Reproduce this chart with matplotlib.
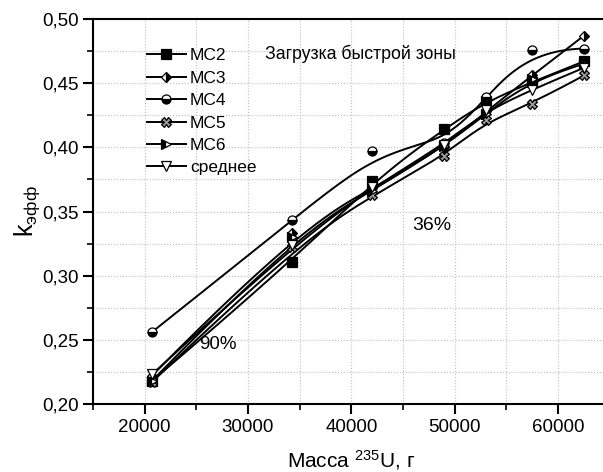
import numpy as np
import matplotlib
matplotlib.use("Agg")
import matplotlib.pyplot as plt
from matplotlib.ticker import MultipleLocator, FuncFormatter

plt.rcParams['font.family'] = ['Liberation Sans', 'DejaVu Sans']
plt.rcParams['mathtext.default'] = 'regular'

# -----------------------------
# data
# -----------------------------
mass = [20700, 34300, 42000, 49000, 53000, 57500, 62500]

mc2 = [0.218, 0.311, 0.374, 0.414, 0.436, 0.451, 0.467]
mc3 = [0.222, 0.333, 0.368, 0.400, 0.428, 0.456, 0.487]
mc4 = [0.256, 0.343, 0.397, 0.403, 0.439, 0.476, 0.477]
mc5 = [0.217, 0.322, 0.363, 0.393, 0.421, 0.434, 0.456]
mc6 = [0.218, 0.330, 0.366, 0.401, 0.426, 0.453, 0.465]
mean = [0.223, 0.324, 0.369, 0.402, 0.429, 0.445, 0.462]

names = ["МС2", "МС3", "МС4", "МС5", "МС6", "среднее"]
series = [mc2, mc3, mc4, mc5, mc6, mean]


# clamped cubic B-spline with the points as control points (like Origin "B-Spline")
def bspline(xs, ys, num=200):
    pts = np.column_stack([xs, ys]).astype(float)
    n = len(pts)
    k = 3
    knots = np.concatenate([[0] * k, np.arange(0, n - k + 1), [n - k] * k]).astype(float)
    t = np.linspace(0, n - k, num)

    def basis(i, p, tt):
        if p == 0:
            b = ((knots[i] <= tt) & (tt < knots[i + 1])).astype(float)
            if knots[i + 1] == knots[-1]:
                b[tt == knots[-1]] = 1.0 if knots[i] < knots[i + 1] else 0.0
            return b
        out = np.zeros_like(tt)
        d1 = knots[i + p] - knots[i]
        d2 = knots[i + p + 1] - knots[i + 1]
        if d1 > 0:
            out += (tt - knots[i]) / d1 * basis(i, p - 1, tt)
        if d2 > 0:
            out += (knots[i + p + 1] - tt) / d2 * basis(i + 1, p - 1, tt)
        return out

    curve = np.zeros((num, 2))
    for i in range(n):
        curve += basis(i, k, t)[:, None] * pts[i]
    return curve[:, 0], curve[:, 1]


fig = plt.figure(figsize=(6.03, 4.72), dpi=100)
ax = fig.add_axes([0.1542, 0.1441, 0.857, 0.8156])

styles = [
    dict(marker='s', mfc='black', fillstyle='full'),
    dict(marker='D', mfc='black', fillstyle='right', markersize=5.5),
    dict(marker='o', mfc='black', fillstyle='bottom'),
    dict(marker='X', mfc='0.6', fillstyle='full'),
    dict(marker='>', mfc='black', fillstyle='left'),
    dict(marker='v', mfc='white', fillstyle='full'),
]

for name, vals, st in zip(names, series, styles):
    cx, cy = bspline(mass, vals)
    ax.plot(cx, cy, color='black', lw=1.4, zorder=2)
    ms = st.pop('markersize', 6.5)
    ax.plot(mass, vals, ls='none', color='black', mec='black', mfc=st['mfc'],
            marker=st['marker'], fillstyle=st['fillstyle'], markerfacecoloralt='white',
            markersize=ms, mew=0.9, zorder=3)
    # legend handle: line + marker
    ax.plot([], [], color='black', lw=1.4, marker=st['marker'], mfc=st['mfc'],
            fillstyle=st['fillstyle'], markerfacecoloralt='white', mec='black',
            markersize=ms, mew=0.9, label=name)

ax.set_xlim(15000, 65000)
ax.set_ylim(0.20, 0.50)
ax.xaxis.set_major_locator(MultipleLocator(10000))
ax.xaxis.set_minor_locator(MultipleLocator(5000))
ax.yaxis.set_major_locator(MultipleLocator(0.05))
ax.yaxis.set_minor_locator(MultipleLocator(0.025))
ax.yaxis.set_major_formatter(FuncFormatter(lambda v, p: f"{v:.2f}".replace('.', ',')))

ax.grid(True, which='both', color='0.75', ls=':', lw=0.8)
ax.set_axisbelow(True)
for s in ax.spines.values():
    s.set_linewidth(1.5)
ax.tick_params(which='major', direction='out', length=7, width=1.5, labelsize=13.5)
ax.tick_params(which='minor', direction='out', length=4, width=1.2)

ax.set_xlabel('Масса $^{235}$U, г', fontsize=15, labelpad=9)
ax.set_ylabel('k$_{эфф}$', fontsize=18, labelpad=0)

leg = ax.legend(loc='upper left', bbox_to_anchor=(0.075, 0.965), frameon=False,
                fontsize=12.5, handlelength=2.2, handletextpad=0.25, labelspacing=0.42)

ax.text(0.333, 0.91, 'Загрузка быстрой зоны', transform=ax.transAxes, fontsize=12.8,
        va='center', ha='left')
ax.text(47800, 0.339, '36%', fontsize=14, va='center', ha='center')
ax.text(27100, 0.246, '90%', fontsize=13.5, va='center', ha='center')

plt.savefig('out.png', dpi=100)
plt.close()
